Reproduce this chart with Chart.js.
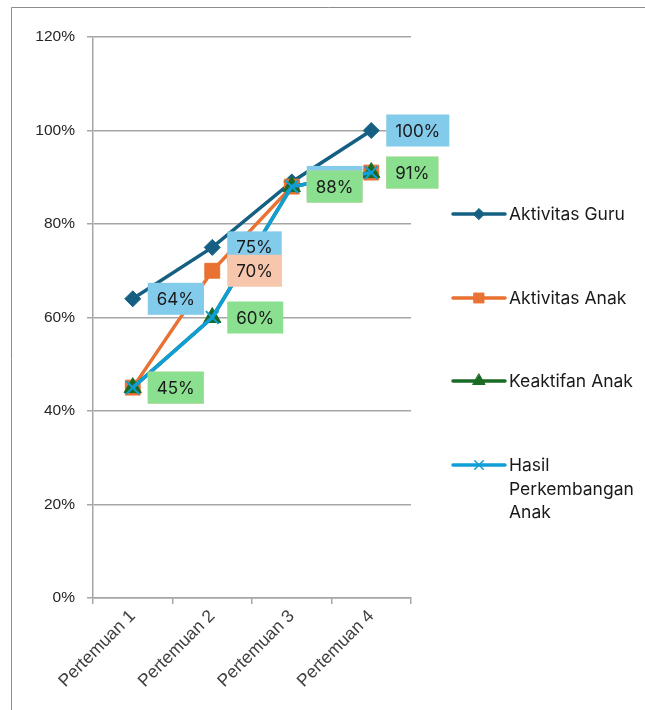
<!DOCTYPE html>
<html>
<head>
<meta charset="utf-8">
<script src="https://cdn.jsdelivr.net/npm/chart.js@4"></script>
<style>
  html, body { margin: 0; padding: 0; background: #fff; }
  #wrap { position: relative; width: 645px; height: 710px; }
</style>
</head>
<body>
<div id="wrap"><canvas id="c"></canvas></div>
<script>
const categories = ["Pertemuan 1", "Pertemuan 2", "Pertemuan 3", "Pertemuan 4"];
const aktivitasGuru = [64, 75, 89, 100];
const aktivitasAnak = [45, 70, 88, 91];
const keaktifanAnak = [45, 60, 88, 91];
const hasilPerkembangan = [45, 60, 88, 91];
const seriesNames = ["Aktivitas Guru", "Aktivitas Anak", "Keaktifan Anak", "Hasil Perkembangan Anak"];
const legendLines = [["Aktivitas Guru"], ["Aktivitas Anak"], ["Keaktifan Anak"], ["Hasil", "Perkembangan", "Anak"]];
const yTicks = [0, 20, 40, 60, 80, 100, 120];

const colors = ["#156082", "#E97132", "#196B24", "#0F9ED5"];
const labelBg = ["#83CBEB", "#F6C6AD", "#8AE08F", null];
const styles = ["rectRot", "rect", "triangle", "crossRot"];
const radii = [8, 10.5, 10, 9];
const legendRadii = [5.5, 7, 7, 6];

const labelFont = '17px Inter, "Noto Sans", sans-serif';
const legendFont = '17.5px Inter, "Noto Sans", sans-serif';

const frame = {
  id: 'frame',
  beforeDraw(chart) {
    const ctx = chart.ctx;
    ctx.save();
    ctx.strokeStyle = '#8c8c8c';
    ctx.lineWidth = 1;
    ctx.beginPath();
    ctx.moveTo(11.5, 720);
    ctx.lineTo(11.5, 7.5);
    ctx.lineTo(660, 7.5);
    ctx.stroke();
    ctx.restore();
  }
};

const dataLabels = {
  id: 'dataLabels',
  afterDatasetsDraw(chart) {
    const ctx = chart.ctx;
    ctx.save();
    ctx.font = labelFont;
    ctx.textBaseline = 'middle';
    ctx.textAlign = 'left';
    chart.data.datasets.forEach((ds, i) => {
      if (!labelBg[i]) return;
      const meta = chart.getDatasetMeta(i);
      meta.data.forEach((pt, j) => {
        const txt = ds.data[j] + '%';
        const w = ctx.measureText(txt).width + 18;
        const h = 32;
        const x = pt.x + 15;
        const y = pt.y - h / 2;
        ctx.fillStyle = labelBg[i];
        ctx.fillRect(x, y, w, h);
        ctx.fillStyle = '#1a1a1a';
        ctx.fillText(txt, x + 9, pt.y + 1);
      });
    });
    ctx.restore();
  }
};

const customLegend = {
  id: 'customLegend',
  afterDraw(chart) {
    const ctx = chart.ctx;
    ctx.save();
    const ys = [214, 298, 381, 465];
    chart.data.datasets.forEach((ds, i) => {
      const y = ys[i];
      ctx.strokeStyle = ds.borderColor;
      ctx.lineWidth = 3.5;
      ctx.lineCap = 'round';
      ctx.beginPath();
      ctx.moveTo(453, y);
      ctx.lineTo(505, y);
      ctx.stroke();
      ctx.fillStyle = ds.pointBackgroundColor;
      ctx.strokeStyle = ds.pointBorderColor;
      ctx.lineWidth = ds.pointStyle === 'crossRot' ? 1.5 : 1;
      Chart.helpers.drawPoint(ctx, {
        pointStyle: ds.pointStyle, radius: legendRadii[i], borderWidth: ctx.lineWidth, rotation: 0
      }, 479, y);
      ctx.fillStyle = '#1a1a1a';
      ctx.font = legendFont;
      ctx.textBaseline = 'middle';
      ctx.textAlign = 'left';
      legendLines[i].forEach((t, k) => ctx.fillText(t, 509, y + 1 + k * 23.5));
    });
    ctx.restore();
  }
};

const seriesData = [aktivitasGuru, aktivitasAnak, keaktifanAnak, hasilPerkembangan];
const orders = [4, 3, 2, 1];

const datasets = seriesData.map((d, i) => ({
  label: seriesNames[i],
  data: d,
  borderColor: colors[i],
  backgroundColor: colors[i],
  pointBackgroundColor: colors[i],
  pointBorderColor: colors[i],
  borderWidth: 3.5,
  pointStyle: styles[i],
  pointRadius: radii[i],
  pointBorderWidth: styles[i] === 'crossRot' ? 2 : 1,
  tension: 0,
  order: orders[i]
}));

new Chart(document.getElementById('c'), {
  type: 'line',
  data: { labels: categories, datasets },
  options: {
    responsive: true,
    maintainAspectRatio: false,
    animation: false,
    layout: { padding: { top: 37, right: 234, bottom: 0, left: 0 } },
    plugins: { legend: { display: false }, tooltip: { enabled: false } },
    scales: {
      x: {
        offset: true,
        grid: { display: true, offset: true, drawOnChartArea: false, drawTicks: true, tickLength: 6, color: '#a6a6a6', lineWidth: 1.5 },
        border: { display: true, color: '#a6a6a6', width: 1.5 },
        ticks: {
          minRotation: 45, maxRotation: 45, padding: 2,
          color: '#404040',
          font: { family: '"Liberation Sans", Arial, sans-serif', size: 17.5 }
        },
        afterFit(scale) { scale.height = 112; }
      },
      y: {
        min: 0, max: 120,
        afterBuildTicks(scale) { scale.ticks = yTicks.map(v => ({ value: v })); },
        grid: { color: '#a6a6a6', lineWidth: 1.5, drawTicks: true, tickLength: 6 },
        border: { display: true, color: '#a6a6a6', width: 1.5 },
        ticks: {
          padding: 12,
          color: '#262626',
          font: { family: '"Liberation Sans", Arial, sans-serif', size: 15.5 },
          callback: v => v + '%'
        },
        afterFit(scale) { scale.width = 93; }
      }
    }
  },
  plugins: [frame, dataLabels, customLegend]
});
</script>
</body>
</html>
